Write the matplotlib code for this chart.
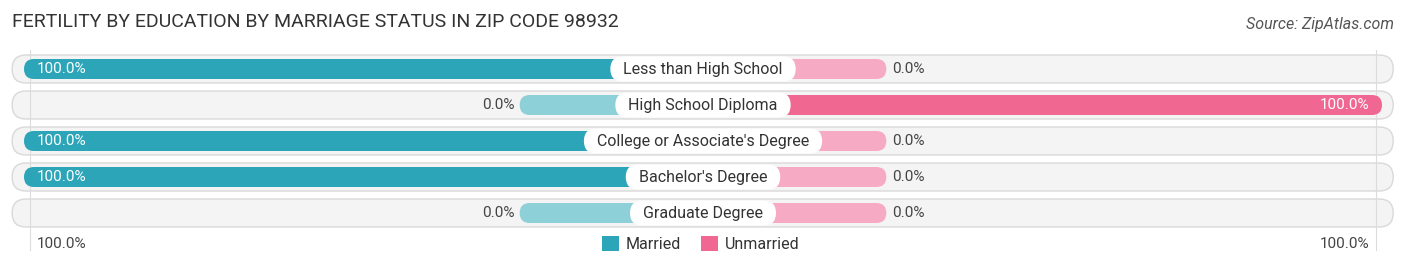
import numpy as np
import matplotlib.pyplot as plt
from matplotlib.patches import FancyBboxPatch, Patch

plt.rcParams['font.family'] = ['Roboto', 'DejaVu Sans']

# data
categories = ["Less than High School", "High School Diploma",
              "College or Associate's Degree", "Bachelor's Degree", "Graduate Degree"]
married = [100.0, 0.0, 100.0, 100.0, 0.0]
unmarried = [0.0, 100.0, 0.0, 0.0, 0.0]

c_mar = '#2ba5b7'
c_mar_light = '#8dd0d8'
c_unm = '#f06892'
c_unm_light = '#f7aac3'

W, H = 1406, 269
PX = 6.79          # pixels per percent unit
STUB = 27          # visual width of a zero bar

fig = plt.figure(figsize=(W / 100, H / 100), dpi=100)
ax = fig.add_axes([0, 0, 1, 1])
ax.set_xlim(-W / 2 / PX, W / 2 / PX)
ax.set_ylim(H, 0)
ax.axis('off')
renderer = fig.canvas.get_renderer()

row_y = 69 + 36 * np.arange(len(categories))


def rbox(x0, yc, w, h, **kw):
    r = h / 2 / PX
    p = FancyBboxPatch((x0, yc - h / 2), w, h,
                       boxstyle=f'round,pad=0,rounding_size={r}',
                       mutation_aspect=PX, **kw)
    ax.add_patch(p)


for i, cat in enumerate(categories):
    y = row_y[i]
    # background track
    rbox(-101.75, y, 203.4, 28, fc='#f4f4f4', ec='#d9d9d9', lw=1, zorder=1)

    # married (left)
    m = married[i]
    if m > 0:
        rbox(-m, y, m, 20, fc=c_mar, ec='none', zorder=3)
        ax.text(-m + 1.9, y, f'{m:.1f}%', color='white', fontsize=11,
                ha='left', va='center', zorder=5)
    else:
        rbox(-STUB, y, STUB, 20, fc=c_mar_light, ec='none', zorder=3)
        ax.text(-STUB - 0.8, y, f'{m:.1f}%', color='#444444', fontsize=11,
                ha='right', va='center', zorder=5)

    # unmarried (right)
    u = unmarried[i]
    if u > 0:
        rbox(0, y, u, 20, fc=c_unm, ec='none', zorder=3)
        ax.text(u - 1.9, y, f'{u:.1f}%', color='white', fontsize=11,
                ha='right', va='center', zorder=5)
    else:
        rbox(0, y, STUB, 20, fc=c_unm_light, ec='none', zorder=3)
        ax.text(STUB + 0.8, y, f'{u:.1f}%', color='#444444', fontsize=11,
                ha='left', va='center', zorder=5)

    # category label in a white pill
    t = ax.text(0, y + 0.5, cat, fontsize=11.5, color='#333333', ha='center',
                va='center', zorder=7)
    tw = t.get_window_extent(renderer).width
    rbox(-(tw + 26) / 2 / PX, y, (tw + 26) / PX, 25, fc='white', ec='none', zorder=6)

# faint guide lines
for gx in (-99.1, 99.1):
    ax.plot([gx, gx], [50, 250], color='#dcdcdc', lw=0.8, zorder=2)

# bottom axis labels
ax.text(-98.1, 244, '100.0%', fontsize=11, color='#444444', ha='left', va='center')
ax.text(98.1, 244, '100.0%', fontsize=11, color='#444444', ha='right', va='center')

# legend
handles = [Patch(fc=c_mar, ec='none', label='Married'),
           Patch(fc=c_unm, ec='none', label='Unmarried')]
fig.legend(handles=handles, loc='center', bbox_to_anchor=(0.4985, 1 - 244 / H),
           ncol=2, frameon=False, fontsize=11.5, handlelength=1.05, handleheight=1.05,
           columnspacing=1.25, handletextpad=0.45, labelcolor='#333333')

# title and source
fig.text(12 / W, 1 - 22 / H, 'FERTILITY BY EDUCATION BY MARRIAGE STATUS IN ZIP CODE 98932',
         fontsize=14, color='#333333', ha='left', va='center')
fig.text(1394 / W, 1 - 24 / H, 'Source: ZipAtlas.com', fontsize=11.5, color='#555555',
         ha='right', va='center', style='italic')

fig.savefig('out.png', dpi=100, facecolor='white')
